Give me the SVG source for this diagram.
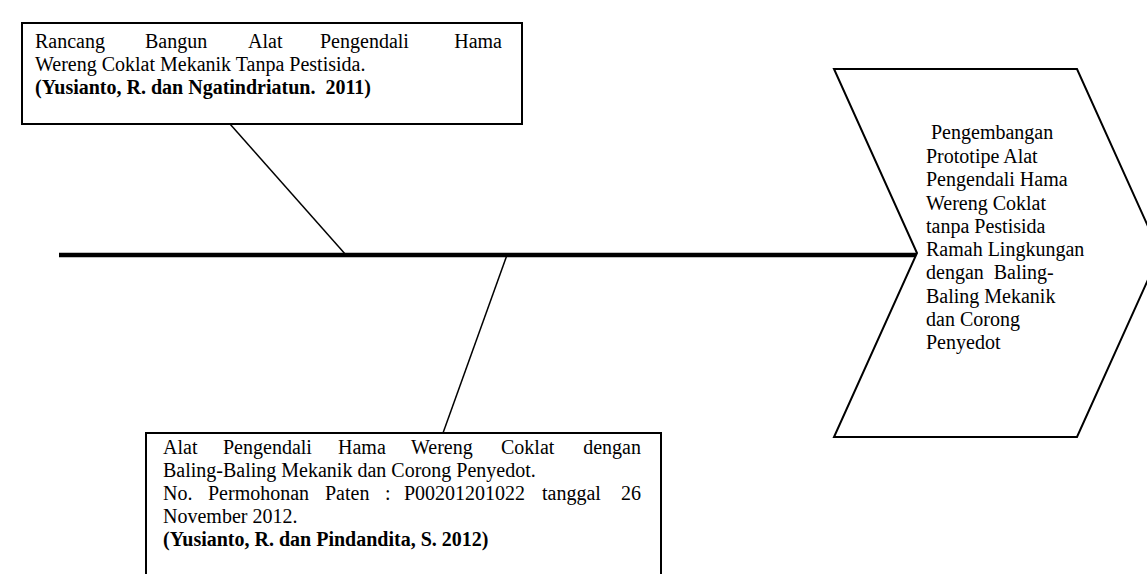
<svg xmlns="http://www.w3.org/2000/svg" width="1147" height="574" viewBox="0 0 1147 574">
<style>
.box{fill:#fff;stroke:#000;stroke-width:2}
.t{font-family:"Liberation Serif","Times New Roman",serif;font-size:20px;fill:#000;white-space:pre}
.b{font-weight:bold}
.ln{stroke:#000;stroke-width:1.5;fill:none}
</style>
<rect width="1147" height="574" fill="#fff"/>
<g id="connectors">
<line x1="59" y1="255" x2="917" y2="255" stroke="#000" stroke-width="4.5"/>
<line class="ln" x1="230" y1="124" x2="346" y2="255"/>
<line class="ln" x1="507" y1="255" x2="443" y2="433"/>
</g>
<g id="node-top">
<rect class="box" x="22" y="23" width="500" height="101"/>
<text class="t"><tspan x="35" y="48">Rancang</tspan><tspan x="145" y="48">Bangun</tspan><tspan x="248" y="48">Alat</tspan><tspan x="320" y="48">Pengendali</tspan><tspan x="502" y="48" text-anchor="end">Hama</tspan></text>
<text class="t" x="35" y="71">Wereng Coklat Mekanik Tanpa Pestisida.</text>
<text class="t b" x="35" y="94">(Yusianto, R. dan Ngatindriatun.  2011)</text>
</g>
<g id="node-bottom">
<rect class="box" x="146" y="433" width="515" height="150"/>
<text class="t"><tspan x="163" y="454">Alat</tspan><tspan x="223" y="454">Pengendali</tspan><tspan x="338" y="454">Hama</tspan><tspan x="411" y="454">Wereng</tspan><tspan x="501" y="454">Coklat</tspan><tspan x="641" y="454" text-anchor="end">dengan</tspan></text>
<text class="t" x="163" y="477">Baling-Baling Mekanik dan Corong Penyedot.</text>
<text class="t"><tspan x="163" y="500">No.</tspan><tspan x="208" y="500">Permohonan</tspan><tspan x="325" y="500">Paten</tspan><tspan x="385" y="500">:</tspan><tspan x="404" y="500">P00201201022</tspan><tspan x="542" y="500">tanggal</tspan><tspan x="641" y="500" text-anchor="end">26</tspan></text>
<text class="t" x="163" y="523">November 2012.</text>
<text class="t b" x="163" y="546">(Yusianto, R. dan Pindandita, S. 2012)</text>
</g>
<g id="node-effect">
<polygon class="box" stroke-width="1.5" points="834,69 1077,69 1160,253 1077,437 834,437 917,253"/>
<text class="t">
<tspan x="926" y="139"> Pengembangan</tspan>
<tspan x="926" y="163">Prototipe Alat</tspan>
<tspan x="926" y="186">Pengendali Hama</tspan>
<tspan x="926" y="210">Wereng Coklat</tspan>
<tspan x="926" y="233">tanpa Pestisida</tspan>
<tspan x="926" y="256">Ramah Lingkungan</tspan>
<tspan x="926" y="279">dengan  Baling-</tspan>
<tspan x="926" y="303">Baling Mekanik</tspan>
<tspan x="926" y="326">dan Corong</tspan>
<tspan x="926" y="349">Penyedot</tspan>
</text>
</g>
</svg>
